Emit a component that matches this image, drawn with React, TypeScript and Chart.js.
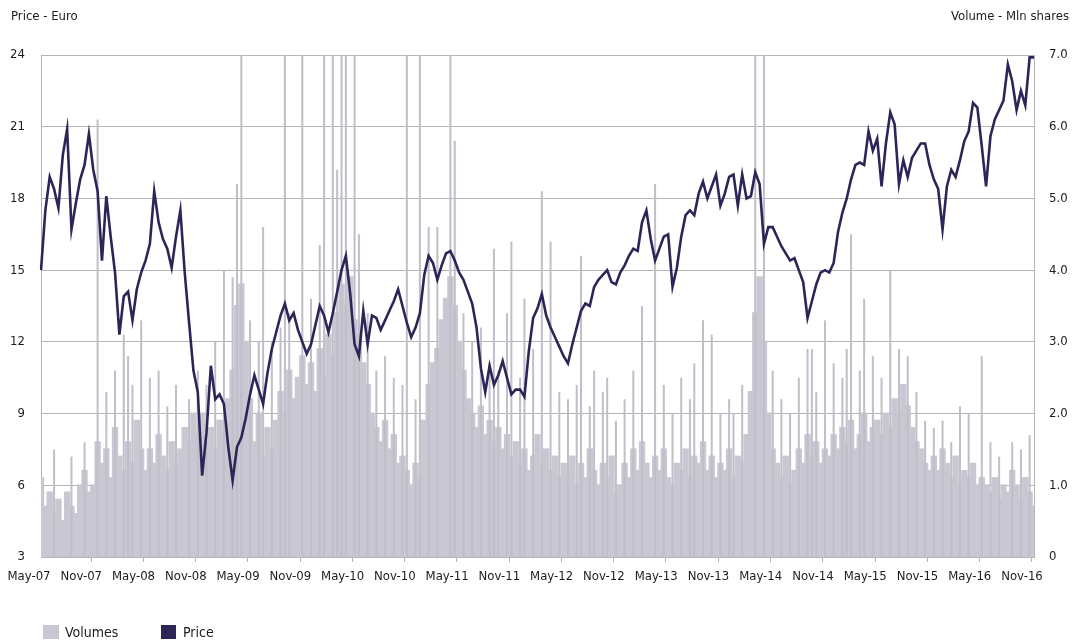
import React, { useEffect, useRef } from 'react';
import { Chart, registerables } from 'chart.js';

Chart.register(...registerables);

// Half-month observations from May-07 to Nov-16 (index 0 = May-07, every 12 = next half-year label)
const tickLabels = [
  'May-07', 'Nov-07', 'May-08', 'Nov-08', 'May-09', 'Nov-09', 'May-10', 'Nov-10', 'May-11', 'Nov-11',
  'May-12', 'Nov-12', 'May-13', 'Nov-13', 'May-14', 'Nov-14', 'May-15', 'Nov-15', 'May-16', 'Nov-16',
];

const price = [
  15.0, 17.5, 18.9, 18.4, 17.6, 19.8, 20.9, 16.7, 17.8, 18.8, 19.4, 20.7,
  19.2, 18.3, 15.4, 18.1, 16.4, 14.9, 12.3, 13.9, 14.1, 12.9, 14.2, 14.9,
  15.4, 16.1, 18.3, 17.0, 16.3, 15.9, 15.1, 16.4, 17.5, 14.9, 12.8, 10.8,
  9.9, 6.4, 8.2, 11.0, 9.6, 9.8, 9.4, 7.6, 6.2, 7.6, 8.0, 8.8,
  9.8, 10.6, 10.0, 9.4, 10.7, 11.7, 12.4, 13.1, 13.6, 12.9, 13.2, 12.5,
  12.0, 11.5, 11.9, 12.7, 13.5, 13.1, 12.4, 13.2, 14.1, 15.0, 15.6, 14.0,
  11.9, 11.4, 13.3, 11.9, 13.1, 13.0, 12.5, 12.9, 13.3, 13.7, 14.2, 13.5,
  12.8, 12.2, 12.6, 13.2, 14.8, 15.6, 15.3, 14.6, 15.2, 15.7, 15.8, 15.4,
  14.9, 14.6, 14.1, 13.6, 12.6, 10.9, 9.9, 11.0, 10.2, 10.6, 11.2, 10.5,
  9.8, 10.0, 10.0, 9.7, 11.6, 13.0, 13.4, 14.0, 13.1, 12.6, 12.2, 11.8,
  11.4, 11.1, 11.9, 12.6, 13.3, 13.6, 13.5, 14.3, 14.6, 14.8, 15.0, 14.5,
  14.4, 14.9, 15.2, 15.6, 15.9, 15.8, 17.0, 17.5, 16.3, 15.4, 15.9, 16.4,
  16.5, 14.3, 15.1, 16.4, 17.3, 17.5, 17.3, 18.2, 18.7, 18.0, 18.5, 19.0,
  17.7, 18.2, 18.9, 19.0, 17.7, 19.0, 18.0, 18.1, 19.1, 18.6, 16.1, 16.8,
  16.8, 16.4, 16.0, 15.7, 15.4, 15.5, 15.0, 14.5, 13.0, 13.7, 14.4, 14.9,
  15.0, 14.9, 15.3, 16.6, 17.4, 18.0, 18.8, 19.4, 19.5, 19.4, 20.8, 20.0,
  20.5, 18.5, 20.3, 21.6, 21.1, 18.6, 19.6, 18.9, 19.7, 20.0, 20.3, 20.3,
  19.4, 18.8, 18.4, 16.7, 18.5, 19.2, 18.9, 19.6, 20.4, 20.8, 22.0, 21.8,
  20.2, 18.5, 20.6, 21.3, 21.7, 22.1, 23.6, 22.9, 21.7, 22.5, 21.9, 23.9,
  23.9,
];

const volumes = [
  1.1, 0.7, 0.9, 0.6, 0.8, 0.5, 0.9, 0.7, 0.6, 1.0, 1.2, 0.9,
  1.0, 1.6, 1.3, 1.5, 1.1, 1.8, 1.4, 1.2, 1.6, 1.3, 1.9, 1.5,
  1.2, 1.5, 1.3, 1.7, 1.4, 1.2, 1.6, 1.3, 1.5, 1.8, 1.6, 2.0,
  1.7, 2.0, 1.6, 1.8, 1.5, 1.9, 1.7, 2.2, 2.6, 3.5, 3.8, 3.0,
  2.2, 1.6, 2.0, 1.4, 1.8, 1.5, 1.9, 2.3, 2.0, 2.6, 2.2, 2.5,
  2.8, 2.4, 2.7, 2.3, 2.9, 2.5, 3.1, 2.8, 3.4, 3.8, 3.5, 3.9,
  3.3, 3.1, 2.7, 2.4, 2.0, 1.8, 1.6, 1.9, 1.5, 1.7, 1.3, 1.4,
  1.2, 1.0, 1.3, 1.1, 1.9, 2.4, 2.7, 2.9, 3.3, 3.6, 3.9, 3.5,
  3.0, 2.6, 2.2, 2.0, 1.8, 2.1, 1.7, 1.9, 1.6, 1.8, 1.5, 1.7,
  1.4, 1.6, 1.3, 1.5, 1.2, 1.4, 1.7, 1.3, 1.5, 1.2, 1.4, 1.1,
  1.3, 1.2, 1.4, 1.0, 1.3, 1.1, 1.5, 1.2, 1.0, 1.3, 1.1, 1.4,
  0.9, 1.0, 1.3, 1.1, 1.5, 1.2, 1.6, 1.3, 1.1, 1.4, 1.2, 1.5,
  1.1, 1.0, 1.3, 1.2, 1.5, 1.1, 1.4, 1.3, 1.6, 1.2, 1.4, 1.1,
  1.3, 1.2, 1.5, 1.1, 1.4, 1.3, 1.7, 2.3, 3.4, 3.9, 3.0, 2.0,
  1.5, 1.3, 1.1, 1.4, 1.0, 1.2, 1.5, 1.3, 1.7, 1.4, 1.6, 1.3,
  1.5, 1.4, 1.7, 1.5, 1.8, 1.6, 1.9, 1.5, 1.7, 2.0, 1.6, 1.8,
  1.9, 1.7, 2.0, 1.8, 2.2, 2.0, 2.4, 2.1, 1.8, 1.6, 1.5, 1.3,
  1.2, 1.4, 1.2, 1.5, 1.3, 1.1, 1.4, 1.0, 1.2, 1.1, 1.3, 1.0,
  1.1, 1.0, 0.9, 1.1, 0.8, 1.0, 0.9, 1.2, 1.0, 0.8, 1.1, 0.9,
  0.7,
];

// Single-day volume peaks: half-month index and value (Mln shares)
const spikeAt = [
  3, 7, 10, 13, 15, 17, 19, 20, 21, 23, 25, 27, 29, 31, 34, 36, 38, 40, 42, 44,
  45, 46, 48, 50, 51, 53, 55, 56, 57, 60, 62, 64, 65, 67, 68, 69, 70, 72, 73, 75,
  77, 79, 81, 83, 84, 86, 87, 89, 91, 94, 95, 97, 99, 101, 103, 104, 105, 107, 108, 110,
  111, 113, 115, 117, 119, 121, 123, 124, 126, 127, 129, 130, 132, 134, 136, 138, 141, 143, 145, 147,
  149, 150, 152, 154, 156, 158, 159, 161, 164, 166, 168, 170, 172, 174, 176, 177, 178, 180, 182, 184,
  185, 186, 188, 189, 191, 193, 195, 197, 199, 201, 203, 205, 207, 209, 211, 213, 216, 218, 220, 223,
  225, 227,
];
const spikeVolumes = [
  1.5, 1.4, 1.6, 6.1, 2.3, 2.6, 3.1, 2.8, 2.4, 3.3, 2.5, 2.6, 2.1, 2.4, 2.2, 2.6, 2.4, 3.0, 4.0, 3.9,
  5.2, 7.2, 3.3, 3.0, 4.6, 3.0, 3.2, 7.2, 3.4, 7.2, 3.6, 4.35, 7.2, 7.2, 5.4, 7.2, 7.2, 7.2, 4.5, 3.4,
  2.6, 2.8, 2.5, 2.4, 7.2, 2.2, 7.2, 4.6, 4.6, 7.2, 5.8, 3.4, 3.0, 3.2, 2.7, 4.3, 2.6, 3.4, 4.4, 2.5,
  3.6, 2.9, 5.1, 4.4, 2.3, 2.2, 2.4, 4.2, 2.1, 2.6, 2.3, 2.5, 1.9, 2.2, 2.6, 3.5, 5.2, 2.4, 2.0, 2.5,
  2.2, 2.7, 3.3, 3.1, 2.0, 2.2, 2.0, 2.4, 7.2, 7.2, 2.6, 2.2, 2.0, 2.5, 2.9, 2.9, 2.3, 3.3, 2.7, 2.5,
  2.9, 4.5, 2.6, 3.6, 2.8, 2.5, 4.0, 2.9, 2.8, 2.3, 1.9, 1.8, 1.9, 1.6, 2.1, 2.0, 2.8, 1.6, 1.4, 1.6,
  1.5, 1.7,
];

const FONT = '"DejaVu Sans Condensed", "Liberation Sans Narrow", "Liberation Sans", sans-serif';
const NAVY = '#2d2557';
const VOL = '#c8c7d2';
const GRID = '#b4b4b8';

export default function App() {
  const ref = useRef<HTMLCanvasElement | null>(null);

  useEffect(() => {
    if (!ref.current) return;
    const labels = price.map((_, i) => (i % 12 === 0 ? tickLabels[i / 12] : ''));
    const spikes: (number | null)[] = price.map(() => null);
    spikeAt.forEach((p, k) => {
      spikes[p] = spikeVolumes[k];
    });

    const chart = new Chart(ref.current, {
      type: 'bar',
      data: {
        labels,
        datasets: [
          {
            type: 'line',
            label: 'Price',
            data: price,
            yAxisID: 'y',
            borderColor: NAVY,
            backgroundColor: NAVY,
            borderWidth: 2.6,
            pointRadius: 0,
            tension: 0,
            order: 0,
          } as any,
          {
            type: 'bar',
            label: 'Volumes',
            data: volumes,
            yAxisID: 'y1',
            backgroundColor: VOL,
            borderWidth: 0,
            barPercentage: 1,
            categoryPercentage: 1,
            inflateAmount: 1,
            grouped: false,
            order: 2,
          },
          {
            type: 'bar',
            label: 'Peaks',
            data: spikes,
            yAxisID: 'y1',
            backgroundColor: '#bfbec9',
            borderWidth: 0,
            barThickness: 2,
            inflateAmount: 0,
            grouped: false,
            order: 1,
          },
        ],
      },
      options: {
        responsive: false,
        animation: false,
        maintainAspectRatio: false,
        layout: { padding: { top: 55, bottom: 0, left: 0, right: 0 } },
        plugins: {
          legend: { display: false },
          tooltip: { enabled: false },
        },
        scales: {
          x: {
            type: 'category',
            offset: false,
            grid: {
              drawOnChartArea: false,
              drawTicks: true,
              tickLength: 5,
              tickColor: (ctx: any) => (ctx.index % 12 === 0 ? GRID : 'rgba(0,0,0,0)'),
            },
            border: { display: true, color: GRID },
            ticks: {
              autoSkip: false,
              maxRotation: 0,
              minRotation: 0,
              padding: 7,
              labelOffset: -12,
              color: '#1c1c1c',
              font: { family: FONT, size: 13 },
            },
            afterFit: (scale: any) => {
              scale.height = 87;
            },
          },
          y: {
            position: 'left',
            min: 3,
            max: 24,
            ticks: {
              stepSize: 3,
              padding: 16,
              color: '#1c1c1c',
              font: { family: FONT, size: 13 },
            },
            grid: { color: GRID, lineWidth: 1, drawTicks: false },
            border: { display: true, color: GRID },
            afterFit: (scale: any) => {
              scale.width = 41;
            },
          },
          y1: {
            position: 'right',
            min: 0,
            max: 7,
            ticks: {
              stepSize: 1,
              padding: 15,
              color: '#1c1c1c',
              font: { family: FONT, size: 13 },
              callback: (v: any) => (Number(v) === 0 ? '0' : Number(v).toFixed(1)),
            },
            grid: { drawOnChartArea: false, drawTicks: false },
            border: { display: true, color: GRID },
            afterFit: (scale: any) => {
              scale.width = 43;
            },
          },
        },
      },
    });
    return () => chart.destroy();
  }, []);

  const textStyle: React.CSSProperties = {
    position: 'absolute',
    fontFamily: FONT,
    fontSize: 13,
    color: '#1c1c1c',
    whiteSpace: 'nowrap',
    lineHeight: '16px',
  };

  return (
    <div style={{ position: 'fixed', left: 0, top: 0, width: 1077, height: 644, background: '#fff', overflow: 'hidden' }}>
      <canvas ref={ref} width={1077} height={644} style={{ position: 'absolute', left: 0, top: 0 }} />
      <div style={{ ...textStyle, left: 11, top: 8 }}>Price - Euro</div>
      <div style={{ ...textStyle, right: 8, top: 8 }}>Volume - Mln shares</div>
      <div style={{ position: 'absolute', left: 43, top: 625, width: 16, height: 14, background: VOL }} />
      <div style={{ ...textStyle, left: 65, top: 624, fontSize: 14 }}>Volumes</div>
      <div style={{ position: 'absolute', left: 161, top: 625, width: 15, height: 14, background: NAVY }} />
      <div style={{ ...textStyle, left: 183, top: 624, fontSize: 14 }}>Price</div>
    </div>
  );
}
